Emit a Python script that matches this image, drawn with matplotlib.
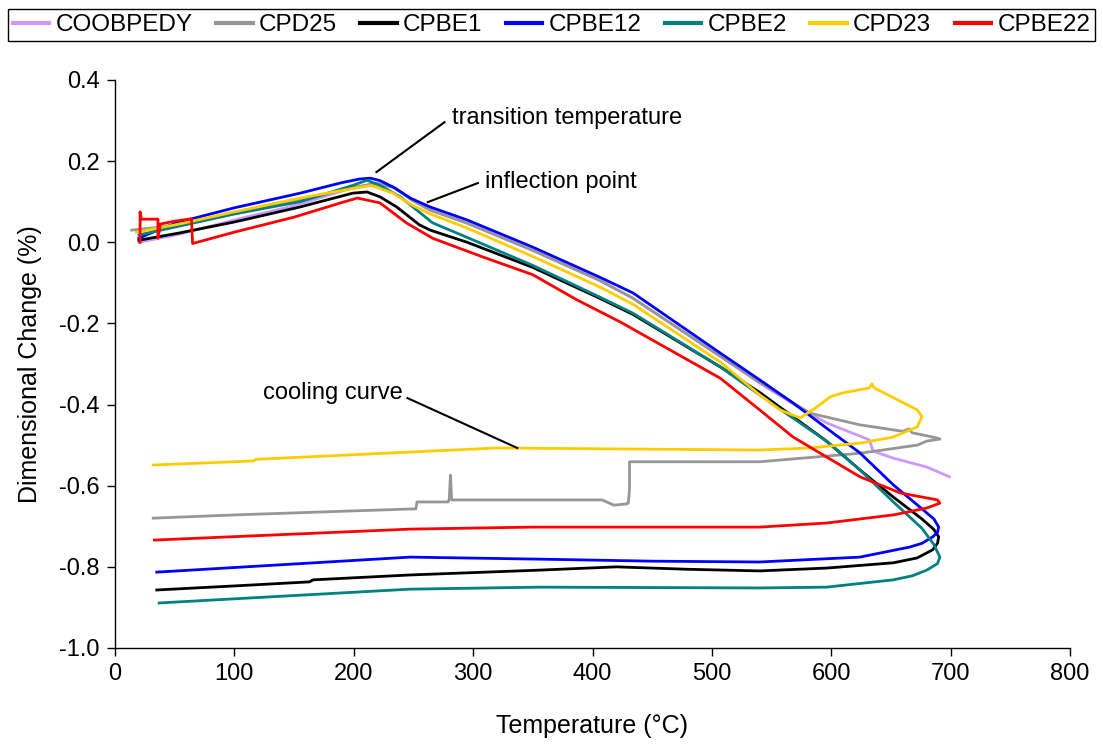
import matplotlib
matplotlib.use("Agg")
import matplotlib.pyplot as plt

# 讀自圖上的膨脹曲線(加熱段 + 冷卻段)
names = ["COOBPEDY", "CPD25", "CPBE1", "CPBE12", "CPBE2", "CPD23", "CPBE22"]
colors = ["#CC99FF", "#969696", "#000000", "#0000FF", "#008080", "#FFCC00", "#FF0000"]

coobpedy_t = [20, 54, 100, 150, 200, 222, 233, 248, 264, 295, 350, 406, 434, 507, 540, 568, 596, 632,
              635, 652, 680, 699]
coobpedy_v = [0.0, 0.02, 0.055, 0.09, 0.135, 0.146, 0.136, 0.106, 0.08, 0.047, -0.02, -0.094, -0.138,
              -0.281, -0.347, -0.398, -0.445, -0.487, -0.515, -0.532, -0.554, -0.578]

cpd25_t = [14, 30, 60, 100, 150, 200, 218, 235, 248, 264, 295, 350, 406, 434, 507, 540, 582, 624, 660,
           665, 668, 672, 688, 691,
           680, 672, 624, 540, 431, 431, 430, 428, 418, 408, 356, 300, 282, 281, 280, 279, 253, 252,
           200, 100, 32]
cpd25_v = [0.03, 0.035, 0.045, 0.07, 0.1, 0.135, 0.145, 0.134, 0.105, 0.079, 0.047, -0.02, -0.094,
           -0.138, -0.281, -0.345, -0.421, -0.45, -0.466, -0.46, -0.47, -0.472, -0.482, -0.485,
           -0.49, -0.5, -0.52, -0.541, -0.541, -0.61, -0.643, -0.645, -0.648, -0.635, -0.635, -0.635,
           -0.635, -0.574, -0.633, -0.64, -0.64, -0.657, -0.662, -0.672, -0.68]

cpbe1_t = [20, 54, 100, 155, 199, 211, 222, 236, 255, 264, 295, 350, 406, 434, 507, 540, 568, 596, 624,
           652, 676, 686, 690, 689, 685, 672,
           652, 596, 540, 480, 420, 356, 247, 166, 163, 100, 35]
cpbe1_v = [0.005, 0.023, 0.05, 0.087, 0.121, 0.124, 0.112, 0.087, 0.043, 0.03, 0.0, -0.062, -0.138,
           -0.178, -0.307, -0.37, -0.43, -0.49, -0.561, -0.628, -0.682, -0.708, -0.726, -0.742,
           -0.758, -0.778,
           -0.79, -0.803, -0.81, -0.806, -0.80, -0.808, -0.82, -0.832, -0.837, -0.847, -0.857]

cpbe12_t = [20, 38, 54, 100, 155, 190, 205, 214, 222, 233, 248, 264, 295, 350, 406, 434, 507, 540, 568,
            596, 624, 652, 674, 686, 690, 689, 685, 676,
            666, 624, 540, 450, 356, 247, 35]
cpbe12_v = [0.01, 0.033, 0.05, 0.085, 0.121, 0.147, 0.156, 0.158, 0.152, 0.136, 0.108, 0.087, 0.055,
            -0.012, -0.086, -0.125, -0.273, -0.339, -0.396, -0.458, -0.519, -0.598, -0.652, -0.682,
            -0.702, -0.715, -0.726, -0.742,
            -0.751, -0.776, -0.788, -0.786, -0.781, -0.776, -0.813]

cpbe2_t = [20, 54, 100, 155, 200, 211, 222, 239, 266, 295, 350, 406, 434, 507, 554, 596, 624, 652, 676,
           686, 691, 689, 680, 668,
           652, 596, 540, 356, 247, 37]
cpbe2_v = [0.018, 0.04, 0.07, 0.1, 0.141, 0.153, 0.14, 0.112, 0.048, 0.012, -0.057, -0.135, -0.175,
           -0.307, -0.405, -0.49, -0.561, -0.64, -0.705, -0.745, -0.776, -0.792, -0.808, -0.822,
           -0.832, -0.85, -0.852, -0.85, -0.855, -0.889]

cpd23_t = [18, 54, 100, 155, 200, 215, 233, 248, 264, 295, 350, 406, 434, 507, 540, 557, 574, 588, 599,
           610, 632, 634, 636, 672, 676,
           672, 652, 624, 582, 540, 450, 320, 247, 118, 116, 32]
cpd23_v = [0.025, 0.045, 0.075, 0.109, 0.133, 0.14, 0.121, 0.093, 0.07, 0.035, -0.035, -0.11, -0.153,
           -0.295, -0.376, -0.413, -0.433, -0.406, -0.381, -0.371, -0.359, -0.349, -0.359, -0.413,
           -0.43,
           -0.455, -0.48, -0.495, -0.507, -0.512, -0.51, -0.507, -0.517, -0.535, -0.539, -0.549]

cpbe22_t = [21, 21, 22, 36, 36, 38, 50, 64, 65, 100, 150, 190, 203, 222, 244, 266, 308, 350, 387, 423,
            507, 540, 568, 596, 624, 658, 689, 691,
            680, 652, 596, 540, 350, 247, 33]
cpbe22_v = [0.0, 0.075, 0.057, 0.057, 0.01, 0.045, 0.052, 0.058, -0.003, 0.025, 0.062, 0.098, 0.109,
            0.097, 0.048, 0.01, -0.036, -0.08, -0.142, -0.196, -0.335, -0.413, -0.48, -0.529, -0.578,
            -0.618, -0.635, -0.643,
            -0.655, -0.672, -0.692, -0.702, -0.702, -0.707, -0.734]

series_t = [coobpedy_t, cpd25_t, cpbe1_t, cpbe12_t, cpbe2_t, cpd23_t, cpbe22_t]
series_v = [coobpedy_v, cpd25_v, cpbe1_v, cpbe12_v, cpbe2_v, cpd23_v, cpbe22_v]

x_ticks = [0, 100, 200, 300, 400, 500, 600, 700, 800]
y_ticks = [-1.0, -0.8, -0.6, -0.4, -0.2, 0.0, 0.2, 0.4]

plt.rcParams["font.family"] = ["Liberation Sans", "DejaVu Sans"]
plt.rcParams["axes.unicode_minus"] = False

W, H = 1103, 747
fig = plt.figure(figsize=(W / 100, H / 100), dpi=100)
ax = fig.add_axes([115 / W, 1 - 648 / H, (1070 - 115) / W, (648 - 80) / H])

for name, c, t, v in zip(names, colors, series_t, series_v):
    ax.plot(t, v, color=c, linewidth=2.0, label=name, solid_joinstyle="round")

ax.set_xlim(0, 800)
ax.set_ylim(-1.0, 0.4)
ax.set_xticks(x_ticks)
ax.set_yticks(y_ticks)
ax.set_yticklabels([f"{y:.1f}" for y in y_ticks])
ax.tick_params(direction="out", length=6, width=1, labelsize=17, color="black", pad=5)
for s in ("top", "right"):
    ax.spines[s].set_visible(False)
for s in ("left", "bottom"):
    ax.spines[s].set_linewidth(1.0)

ax.set_xlabel("Temperature (°C)", fontsize=18, labelpad=21)
ax.set_ylabel("Dimensional Change (%)", fontsize=18, labelpad=12)

# 註記:文字 + 細線
ax.plot([219, 276], [0.173, 0.296], color="black", linewidth=1.5)
ax.text(282, 0.306, "transition temperature", fontsize=17, va="center", ha="left")
ax.plot([262, 304], [0.099, 0.146], color="black", linewidth=1.5)
ax.text(310, 0.149, "inflection point", fontsize=17, va="center", ha="left")
ax.plot([245, 337], [-0.384, -0.507], color="black", linewidth=1.5)
ax.text(124, -0.371, "cooling curve", fontsize=17, va="center", ha="left")

handles, labels = ax.get_legend_handles_labels()
leg = fig.legend(handles, labels, loc="center", ncol=7, mode="expand",
                 bbox_to_anchor=(8 / W, 1 - 45 / H, 1087 / W, 40 / H),
                 fancybox=False, edgecolor="black", framealpha=1,
                 handlelength=1.5, handletextpad=0.25, columnspacing=0.6,
                 borderpad=0.2, prop={"size": 17.5}, borderaxespad=0)
leg.get_frame().set_linewidth(1.0)
for ln in leg.get_lines():
    ln.set_linewidth(3)

fig.savefig("out.png", dpi=100)
